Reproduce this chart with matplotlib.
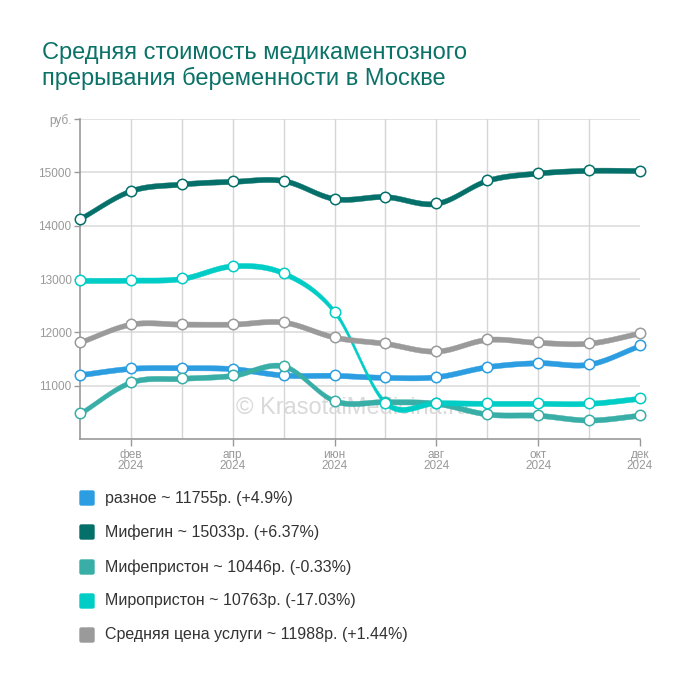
import numpy as np
import matplotlib
matplotlib.use("Agg")
import matplotlib.pyplot as plt
from matplotlib.patches import FancyBboxPatch

plt.rcParams['font.family'] = ['Liberation Sans', 'DejaVu Sans']

months = ['янв', 'фев', 'мар', 'апр', 'май', 'июн', 'июл', 'авг', 'сен', 'окт', 'ноя', 'дек']
year = '2024'

raznoe = [11206, 11324, 11336, 11318, 11199, 11193, 11155, 11168, 11355, 11430, 11404, 11755]
mifegin = [14133, 14657, 14781, 14831, 14844, 14507, 14545, 14419, 14850, 14987, 15037, 15033]
mifepriston = [10481, 11067, 11137, 11193, 11367, 10717, 10700, 10668, 10468, 10444, 10356, 10446]
miropriston = [12972, 12978, 13010, 13246, 13109, 12384, 10680, 10680, 10668, 10668, 10668, 10763]
srednyaya = [11818, 12154, 12154, 12154, 12191, 11910, 11792, 11648, 11867, 11811, 11798, 11988]

series = [
    ('разное', raznoe, '#2b9de0', '+4.9%'),
    ('Мифегин', mifegin, '#05706a', '+6.37%'),
    ('Мифепристон', mifepriston, '#38aea7', '-0.33%'),
    ('Миропристон', miropriston, '#00cdc6', '-17.03%'),
    ('Средняя цена услуги', srednyaya, '#9a9a9a', '+1.44%'),
]


def catmull_rom(y, steps=40):
    y = np.asarray(y, dtype=float)
    n = len(y)
    m = np.zeros(n)
    m[1:-1] = (y[2:] - y[:-2]) / 2
    m[0] = y[1] - y[0]
    m[-1] = y[-1] - y[-2]
    xs, ys = [], []
    for i in range(n - 1):
        t = np.linspace(0, 1, steps, endpoint=(i == n - 2))
        h00 = 2 * t**3 - 3 * t**2 + 1
        h10 = t**3 - 2 * t**2 + t
        h01 = -2 * t**3 + 3 * t**2
        h11 = t**3 - t**2
        xs.append(i + t)
        ys.append(h00 * y[i] + h10 * m[i] + h01 * y[i + 1] + h11 * m[i + 1])
    return np.concatenate(xs), np.concatenate(ys)


W, H = 700, 684
fig = plt.figure(figsize=(W / 100, H / 100), dpi=100)
ax_l, ax_r, ax_t, ax_b = 80, 640, 119, 439
ax = fig.add_axes([ax_l / W, 1 - ax_b / H, (ax_r - ax_l) / W, (ax_b - ax_t) / H])

ymin, ymax = 10000, 16000
ax.set_xlim(0, 11)
ax.set_ylim(ymin, ymax)
rub_per_px = (ymax - ymin) / (ax_b - ax_t)

# grid
for yv in range(11000, 16001, 1000):
    ax.axhline(yv, color='#dddddd', lw=1.2, zorder=0)
for xv in range(1, 11):
    ax.axvline(xv, color='#d6d6d6', lw=1, zorder=0)

ax.text(5.35, 10580, '© KrasotaiMedicina.ru', fontsize=17, color='#d9d9d9',
        ha='center', va='center', zorder=1)

half = 2.6 * rub_per_px
for k, (name, vals, color, pct) in enumerate(series):
    xs, ys = catmull_rom(vals)
    ax.fill_between(xs, ys - half, ys + half, color=color, lw=0.3,
                    edgecolor=color, zorder=3 + k * 0.1)
for k, (name, vals, color, pct) in enumerate(series):
    ax.plot(range(len(vals)), vals, 'o', ms=7.5, mfc='white', mec=color,
            mew=1.1, clip_on=False, zorder=5)

for side in ['top', 'right']:
    ax.spines[side].set_visible(False)
for side in ['left', 'bottom']:
    ax.spines[side].set_color('#999999')
    ax.spines[side].set_linewidth(1.2)

ax.set_yticks(range(11000, 16001, 1000))
ax.set_yticklabels([str(v) for v in range(11000, 16000, 1000)] + ['руб.'])
ax.set_xticks(range(1, 12, 2))
ax.set_xticklabels([f'{months[i]}\n{year}' for i in range(1, 12, 2)], linespacing=0.95)
ax.tick_params(axis='both', colors='#999999', labelcolor='#999999', labelsize=8.5,
               length=4, width=1)
ax.tick_params(axis='y', pad=2)
ax.tick_params(axis='x', pad=2, length=5)

fig.text(42 / W, 1 - 85 / H, 'Средняя стоимость медикаментозного\nпрерывания беременности в Москве',
         fontsize=17, color='#0b7268', ha='left', va='baseline', linespacing=1.15)

rows = [498, 532, 567, 601, 635]
for (name, vals, color, pct), yc in zip(series, rows):
    sq = 14
    fig.patches.append(FancyBboxPatch(((80) / W, 1 - (yc + sq / 2) / H), sq / W, sq / H,
                                      boxstyle='round,pad=0,rounding_size=0.002',
                                      transform=fig.transFigure, color=color))
    fig.text(105 / W, 1 - yc / H, f'{name} ~ {vals[-1]}р. ({pct})', fontsize=11.5,
             color='#333333', ha='left', va='center')

fig.savefig('out.png', dpi=100)
